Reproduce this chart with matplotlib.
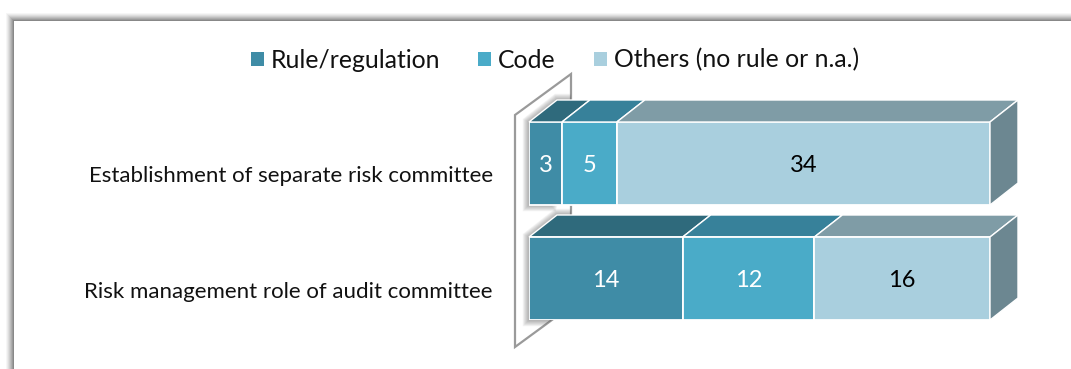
import matplotlib
matplotlib.use("Agg")
import matplotlib.pyplot as plt
from matplotlib.patches import Patch, Polygon, Rectangle
from matplotlib.transforms import ScaledTranslation

plt.rcParams["font.family"] = ["Lato", "DejaVu Sans"]

W, H = 1071, 369

# Data
categories = ["Establishment of separate risk committee", "Risk management role of audit committee"]
series_names = ["Rule/regulation", "Code", "Others (no rule or n.a.)"]
rule_values = [3, 14]
code_values = [5, 12]
other_values = [34, 16]

front_colors = ["#3f8ca6", "#4aabc8", "#a9cfde"]
top_colors = ["#2f6a7c", "#37819a", "#7f9ca6"]
side_color = "#6c8791"
label_colors = ["white", "white", "black"]

fig = plt.figure(figsize=(W / 100, H / 100), dpi=100, facecolor="white")

# Pixel overlay for the picture frame and the side wall
bg = fig.add_axes([0, 0, 1, 1], zorder=0)
bg.set_xlim(0, W)
bg.set_ylim(H, 0)
bg.axis("off")

# soft gray frame shadow, outer to inner
shades = ["#f6f6f6", "#ebebeb", "#dedede", "#cfcfcf", "#bebebe", "#adadad", "#9b9b9b", "#888888"]
for i, shade in enumerate(shades):
    off = len(shades) - i
    bg.add_patch(Rectangle((14 - off, 21 - off), W, H, fc=shade, ec="none"))
bg.add_patch(Rectangle((14, 21), W, H, fc="white", ec="none"))

wall = Polygon([(515, 115), (571, 74), (571, 306), (515, 347)], closed=True,
               fc="white", ec="#9a9a9a", lw=1.6)
bg.add_patch(wall)

# Chart axes: spans exactly the front faces of the bars
ax = fig.add_axes([529 / W, 1 - 320 / H, 461 / W, 198 / H], zorder=1)
ax.patch.set_alpha(0)
y_pos = [0, 1]
bar_h = 83 / 115
ax.set_xlim(0, 42)
ax.set_ylim(1 + bar_h / 2, -bar_h / 2)
for s in ax.spines.values():
    s.set_visible(False)
ax.set_xticks([])
ax.set_yticks(y_pos)
ax.set_yticklabels(categories, fontsize=16, color="#111111")
ax.tick_params(axis="y", length=0, pad=26)
# category labels sit a little lower than the bar centres
for lab in ax.get_yticklabels():
    lab.set_transform(lab.get_transform() + ScaledTranslation(0, -11 / 100, fig.dpi_scale_trans))

dx = 28 / 461 * 42
dy = 22 / 115

# Shadow cast on the wall, only around the left end of each bar
shadow_w = 2
for y in y_pos:
    top, bot = y - bar_h / 2, y + bar_h / 2
    outline = [(0, top), (dx, top - dy), (dx + shadow_w, top - dy), (shadow_w, bot), (0, bot)]
    for lw in range(1, 10):
        sh = Polygon(outline, closed=True, fc="none", ec="#555555", lw=lw, alpha=0.06, zorder=1)
        ax.add_patch(sh)
        sh.set_clip_box(fig.bbox)
        sh.set_clip_path(wall)

all_series = [rule_values, code_values, other_values]
left = [0, 0]
for k, values in enumerate(all_series):
    ax.barh(y_pos, values, height=bar_h, left=left, color=front_colors[k],
            edgecolor="white", linewidth=1.3, zorder=3)
    for y in y_pos:
        x0, x1 = left[y], left[y] + values[y]
        top = y - bar_h / 2
        ax.add_patch(Polygon([(x0, top), (x0 + dx, top - dy), (x1 + dx, top - dy), (x1, top)], closed=True,
                             fc=top_colors[k], ec="white", lw=1.0, zorder=2, clip_on=False))
        if k == len(all_series) - 1:
            bot = y + bar_h / 2
            ax.add_patch(Polygon([(x1, top), (x1 + dx, top - dy), (x1 + dx, bot - dy), (x1, bot)], closed=True,
                                 fc=side_color, ec="white", lw=1.0, zorder=2, clip_on=False))
        ax.annotate(str(values[y]), ((x0 + x1) / 2, y), xytext=(0, -1.5), textcoords="offset points",
                    ha="center", va="center", fontsize=17, color=label_colors[k], zorder=4)
    left = [a + b for a, b in zip(left, values)]

# Legend
handles = [Patch(fc=c, ec="none", label=n) for c, n in zip(front_colors, series_names)]
fig.legend(handles=handles, loc="center", bbox_to_anchor=(555 / W, 1 - 60 / H), ncol=3, frameon=False,
           fontsize=17.8, handlelength=0.52, handleheight=0.52, handletextpad=0.28,
           columnspacing=1.54, labelcolor="#111111")

fig.savefig("out.png", dpi=100)
